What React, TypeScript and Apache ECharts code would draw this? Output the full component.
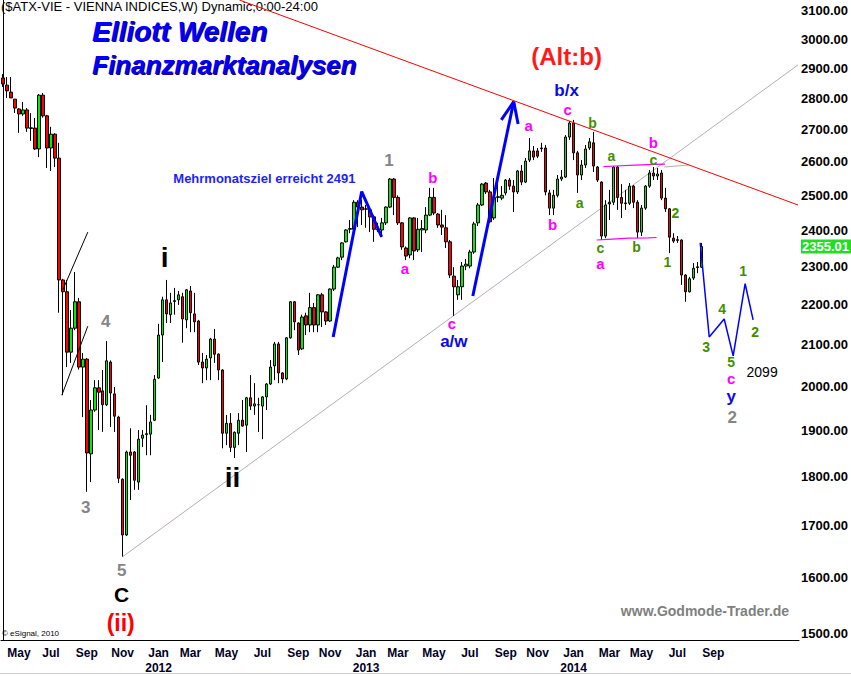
import React, { useEffect, useRef } from "react";
import * as echarts from "echarts";

// ---------- data ----------
const FIRST_FRIDAY = Date.UTC(2011, 3, 8);
const WEEK_COUNT = 200;
const MONTH_NAMES = ["Jan", "Feb", "Mar", "Apr", "May", "Jun", "Jul", "Aug", "Sep", "Oct", "Nov", "Dec"];
const LAST_LABEL_DATE = "2014-09-30";

// weekly candles: [open, close, low, high]
const ohlc2011 = [
  [2867, 2847, 2837, 2880], [2843, 2824, 2801, 2870], [2820, 2801, 2801, 2870], [2797, 2768, 2752, 2797],
  [2765, 2749, 2689, 2768], [2749, 2762, 2743, 2788], [2762, 2704, 2692, 2768], [2705, 2703, 2664, 2752],
  [2704, 2639, 2636, 2736], [2639, 2810, 2614, 2814], [2810, 2743, 2737, 2817], [2743, 2642, 2581, 2746],
  [2642, 2685, 2572, 2708], [2685, 2611, 2584, 2688], [2611, 2265, 2180, 2658], [2265, 2234, 1980, 2268],
  [2234, 2082, 2046, 2265], [2082, 2141, 2056, 2187], [2141, 2208, 2136, 2286], [2208, 2046, 2040, 2218],
  [2046, 2065, 1930, 2080], [2065, 1851, 1769, 2068], [1849, 1946, 1789, 1969], [1946, 1997, 1942, 2015],
  [1997, 1987, 1901, 2015], [1990, 1958, 1897, 2039], [1958, 2061, 1955, 2109], [2058, 1985, 1908, 2062],
  [1983, 1932, 1897, 1999], [1930, 1797, 1787, 1933], [1795, 1682, 1640, 1797], [1682, 1853, 1680, 1856],
  [1853, 1846, 1752, 1905], [1853, 1793, 1773, 1855], [1789, 1881, 1773, 1901], [1883, 1890, 1864, 1901],
  [1891, 1893, 1846, 1957], [1892, 1919, 1846, 1935], [1923, 2017, 1921, 2027],
];
const ohlc2012 = [
  [2020, 2124, 2018, 2152], [2124, 2213, 2058, 2221], [2213, 2177, 2154, 2265], [2175, 2205, 2154, 2231],
  [2209, 2211, 2175, 2244], [2213, 2226, 2200, 2236], [2221, 2164, 2105, 2231], [2162, 2239, 2141, 2241],
  [2236, 2180, 2131, 2249], [2177, 2157, 2131, 2231], [2159, 2058, 2051, 2162], [2058, 2044, 2008, 2080],
  [2044, 2065, 2015, 2075], [2068, 2114, 2015, 2117], [2114, 2077, 2056, 2139], [2077, 2039, 2015, 2079],
  [2039, 1894, 1861, 2041], [1894, 1916, 1868, 1935], [1916, 1863, 1853, 1939], [1863, 1896, 1840, 1898],
  [1894, 1923, 1868, 1939], [1923, 1910, 1908, 1969], [1912, 1974, 1853, 1976], [1974, 1955, 1946, 2027],
  [1955, 1960, 1935, 2008], [1958, 1958, 1897, 1974], [1955, 1976, 1881, 1978], [1976, 2006, 1946, 2008],
  [2006, 2046, 2004, 2063], [2049, 2102, 2015, 2107], [2102, 2032, 2008, 2107], [2032, 2018, 2008, 2034],
  [2018, 2117, 2015, 2119], [2117, 2208, 2115, 2210], [2208, 2157, 2136, 2210], [2154, 2087, 2075, 2156],
  [2090, 2169, 2087, 2175], [2172, 2149, 2124, 2180], [2149, 2193, 2131, 2231], [2193, 2149, 2131, 2205],
  [2149, 2226, 2131, 2228], [2226, 2182, 2144, 2231], [2182, 2159, 2149, 2184], [2159, 2241, 2157, 2243],
  [2241, 2299, 2236, 2305], [2299, 2324, 2297, 2327], [2326, 2365, 2318, 2367], [2368, 2401, 2366, 2403],
  [2403, 2405, 2392, 2429], [2403, 2480, 2400, 2486], [2480, 2466, 2409, 2486], [2466, 2458, 2415, 2488],
];
const ohlc2013 = [
  [2461, 2460, 2407, 2472], [2458, 2438, 2395, 2464], [2438, 2403, 2368, 2443], [2403, 2401, 2395, 2421],
  [2401, 2421, 2381, 2435], [2421, 2466, 2415, 2468], [2466, 2548, 2463, 2551], [2548, 2494, 2443, 2551],
  [2494, 2421, 2415, 2500], [2421, 2354, 2346, 2423], [2351, 2329, 2318, 2355], [2332, 2435, 2323, 2437],
  [2435, 2343, 2318, 2437], [2346, 2403, 2340, 2435], [2401, 2405, 2340, 2429], [2401, 2443, 2392, 2466],
  [2443, 2494, 2440, 2522], [2494, 2449, 2443, 2522], [2446, 2415, 2407, 2449], [2415, 2409, 2387, 2458],
  [2407, 2368, 2351, 2443], [2368, 2278, 2270, 2373], [2275, 2247, 2172, 2299], [2226, 2247, 2213, 2265],
  [2247, 2302, 2213, 2313], [2302, 2307, 2291, 2321], [2302, 2340, 2296, 2346], [2340, 2418, 2335, 2424],
  [2421, 2472, 2412, 2478], [2472, 2533, 2469, 2536], [2536, 2510, 2504, 2539], [2510, 2424, 2421, 2516],
  [2435, 2494, 2429, 2551], [2494, 2496, 2480, 2545], [2492, 2500, 2486, 2527], [2507, 2545, 2500, 2548],
  [2545, 2527, 2516, 2551], [2527, 2510, 2452, 2545], [2510, 2572, 2504, 2575], [2572, 2539, 2530, 2590],
  [2539, 2602, 2536, 2611], [2605, 2633, 2599, 2673], [2633, 2614, 2605, 2648], [2633, 2617, 2611, 2642],
  [2642, 2640, 2630, 2658], [2642, 2510, 2500, 2651], [2507, 2463, 2443, 2516], [2463, 2500, 2443, 2516],
  [2500, 2548, 2494, 2560], [2548, 2554, 2542, 2575], [2554, 2676, 2551, 2682], [2676, 2720, 2667, 2727],
];
const ohlc2014 = [
  [2720, 2627, 2605, 2730], [2627, 2560, 2507, 2633], [2560, 2590, 2545, 2605], [2590, 2639, 2581, 2651],
  [2642, 2661, 2636, 2673], [2658, 2587, 2569, 2692], [2584, 2545, 2539, 2587], [2539, 2384, 2373, 2541],
  [2384, 2472, 2378, 2486], [2475, 2480, 2429, 2516], [2480, 2584, 2472, 2587], [2584, 2494, 2458, 2587],
  [2494, 2477, 2435, 2533], [2478, 2476, 2458, 2516], [2477, 2527, 2472, 2536], [2527, 2480, 2463, 2530],
  [2480, 2395, 2378, 2486], [2395, 2463, 2384, 2472], [2463, 2527, 2458, 2530], [2527, 2566, 2522, 2575],
  [2566, 2557, 2545, 2584], [2557, 2563, 2545, 2581], [2566, 2492, 2486, 2575], [2492, 2461, 2452, 2522],
  [2461, 2381, 2337, 2463], [2378, 2370, 2365, 2392], [2374, 2372, 2365, 2384], [2373, 2278, 2252, 2375],
  [2278, 2234, 2208, 2280], [2234, 2268, 2232, 2273], [2270, 2296, 2265, 2310], [2298, 2300, 2283, 2313],
  [2299, 2355.01, 2297, 2365],
];
const lastClose = 2355.01;

const yTickValues = [1500, 1600, 1700, 1800, 1900, 2000, 2100, 2200, 2300, 2400, 2500, 2600, 2700, 2800, 2900, 3000, 3100];
const yMin = 1488;
const yMax = 3140;

// drawn lines: [week index, price]
const resistanceLine = [[59.25, 3140], [199.25, 2472]];
const supportLine = [[30, 1640], [199.25, 2911]];
const stubLine = [[165.75, 2584], [171.75, 2590]];
const rangeTop = [[150.5, 2585], [153.4, 2587], [158.4, 2590], [163.4, 2592], [165.9, 2593]];
const rangeBottom = [[148.8, 2373], [151.75, 2375], [156.75, 2378], [161.75, 2379], [163.8, 2380]];
const channelUpper = [[15, 2239], [21.25, 2395]];
const channelLower = [[14.75, 1980], [21.25, 2146]];
const targetPath = [[82.75, 2119], [89.9, 2511], [94.9, 2382]];
const arrowShaft = [[117.75, 2223], [128, 2789]];
const arrowHeadLeft = [[124.9, 2730], [128, 2789]];
const arrowHeadRight = [[128, 2789], [129.1, 2717]];
const projection = [[174.75, 2365], [177, 2119], [180.75, 2164], [183, 2073], [186, 2255], [188, 2162]];

// wave annotations: [text, week index, price, kind]
const waveLabels: [string, number, number, string][] = [
  ["i", 40.5, 2324, "roman"],
  ["ii", 57.5, 1799, "roman"],
  ["4", 25.75, 2157, "gray"],
  ["3", 20.75, 1736, "gray"],
  ["5", 29.75, 1613, "gray"],
  ["C", 29.75, 1570, "bigC"],
  ["(ii)", 29.5, 1518, "red"],
  ["1", 96.75, 2605, "gray"],
  ["a", 100.75, 2296, "magenta"],
  ["b", 107.75, 2554, "magenta"],
  ["c", 112.5, 2154, "magenta"],
  ["a/w", 113, 2107, "blue"],
  ["a", 131.75, 2711, "magenta"],
  ["b", 137.75, 2415, "magenta"],
  ["c", 141.5, 2762, "magenta"],
  ["b/x", 141.25, 2824, "blue"],
  ["b", 147.75, 2720, "olive"],
  ["a", 144.5, 2477, "olive"],
  ["a", 152.5, 2617, "olive"],
  ["c", 149.75, 2351, "olive"],
  ["a", 149.75, 2310, "magenta"],
  ["b", 158.75, 2354, "olive"],
  ["c", 163, 2605, "olive"],
  ["b", 163, 2658, "magenta"],
  ["2", 168.5, 2449, "olive"],
  ["1", 166.5, 2313, "olive"],
  ["1", 185.5, 2288, "olive"],
  ["4", 180.25, 2190, "olive"],
  ["3", 176.25, 2095, "olive"],
  ["2", 188.5, 2131, "olive"],
  ["5", 182.5, 2058, "olive"],
  ["c", 182.5, 2018, "magenta"],
  ["y", 182.5, 1976, "blue"],
  ["2", 182.75, 1930, "gray"],
  ["2099", 190.25, 2034, "plain"],
  ["(Alt:b)", 141.25, 2938, "alt"],
  ["Mehrmonatsziel erreicht 2491", 65.5, 2551, "note"],
];

// ---------- styles ----------
const FONT = "Arial, 'Liberation Sans', sans-serif";
const labelStyles: Record<string, any> = {
  roman: { color: "#000000", fontSize: 28 },
  bigC: { color: "#000000", fontSize: 21 },
  red: { color: "#ff0000", fontSize: 23 },
  alt: { color: "#ff1a1a", fontSize: 24 },
  gray: { color: "#858585", fontSize: 17 },
  magenta: { color: "#ff00ff", fontSize: 15 },
  olive: { color: "#3f8f00", fontSize: 14 },
  blue: { color: "#0a0ae6", fontSize: 17 },
  plain: { color: "#000000", fontSize: 14, fontWeight: "normal" },
  note: { color: "#1e1eff", fontSize: 13 },
};

function buildWeeks(): string[] {
  const out: string[] = [];
  for (let i = 0; i < WEEK_COUNT; i++) {
    out.push(new Date(FIRST_FRIDAY + i * 7 * 86400000).toISOString().slice(0, 10));
  }
  return out;
}

function lineSeries(data: number[][], color: string, width: number, z = 4) {
  return {
    type: "line",
    xAxisIndex: 1,
    yAxisIndex: 0,
    data,
    symbol: "none",
    showSymbol: false,
    silent: true,
    z,
    lineStyle: { color, width, opacity: 1 },
  };
}

function buildOption() {
  const weeks = buildWeeks();
  const ohlc = [...ohlc2011, ...ohlc2012, ...ohlc2013, ...ohlc2014];

  return {
    animation: false,
    backgroundColor: "#ffffff",
    textStyle: { fontFamily: FONT },
    grid: { left: 1, right: 50, top: 0, bottom: 36, containLabel: false },
    xAxis: [
      {
        type: "category",
        data: weeks,
        boundaryGap: true,
        axisLine: { show: true, onZero: false, lineStyle: { color: "#000", width: 1 } },
        axisTick: { show: false },
        splitLine: { show: false },
        axisLabel: {
          interval: (_idx: number, value: string) => {
            const [, m, d] = value.split("-").map(Number);
            return m % 2 === 1 && d <= 7 && value <= LAST_LABEL_DATE;
          },
          formatter: (value: string) => {
            const [y, m] = value.split("-").map(Number);
            const name = MONTH_NAMES[m - 1];
            return m === 1 ? `${name}\n${y}` : name;
          },
          color: "#000022",
          fontWeight: "bold",
          fontSize: 12,
          fontFamily: FONT,
          margin: 5,
          lineHeight: 15,
        },
      },
      { type: "value", min: -0.5, max: WEEK_COUNT - 0.5, show: false, position: "top" },
    ],
    yAxis: {
      type: "log",
      logBase: 10,
      min: yMin,
      max: yMax,
      position: "right",
      axisLine: { show: true, lineStyle: { color: "#000", width: 1 } },
      axisTick: { show: false },
      splitLine: { show: false },
      axisLabel: {
        customValues: yTickValues,
        formatter: (v: number) => Number(v).toFixed(2),
        color: "#000",
        fontWeight: "bold",
        fontSize: 13,
        fontFamily: FONT,
        margin: 2,
      },
    },
    series: [
      {
        type: "candlestick",
        xAxisIndex: 0,
        yAxisIndex: 0,
        data: ohlc,
        barWidth: 3,
        silent: true,
        z: 2,
        itemStyle: {
          color: "#00ee00",
          color0: "#ff0000",
          borderColor: "#000000",
          borderColor0: "#000000",
          borderWidth: 1,
        },
        markLine: {
          silent: true,
          symbol: ["none", "none"],
          lineStyle: { width: 0, color: "rgba(0,0,0,0)" },
          label: {
            show: true,
            position: "end",
            distance: 2,
            formatter: () => lastClose.toFixed(2),
            backgroundColor: "#22dd22",
            color: "#ffffff",
            fontWeight: "bold",
            fontSize: 13,
            fontFamily: FONT,
            padding: [1, 2, 0, 1],
          },
          data: [{ yAxis: lastClose }],
        },
      },
      lineSeries(supportLine, "#b8acbc", 1, 1),
      lineSeries(stubLine, "#b0b0b0", 1, 1),
      lineSeries(resistanceLine, "#ff0000", 1, 3),
      lineSeries(rangeTop, "#ff00ff", 1.2, 3),
      lineSeries(rangeBottom, "#ff00ff", 1.2, 3),
      lineSeries(channelUpper, "#000000", 1, 3),
      lineSeries(channelLower, "#000000", 1, 3),
      lineSeries(targetPath, "#0000ff", 3, 4),
      lineSeries(arrowShaft, "#0000ff", 3, 4),
      lineSeries(arrowHeadLeft, "#0000ff", 3, 4),
      lineSeries(arrowHeadRight, "#0000ff", 3, 4),
      lineSeries(projection, "#0000ff", 1.5, 4),
      {
        type: "scatter",
        xAxisIndex: 1,
        yAxisIndex: 0,
        symbolSize: 0,
        silent: true,
        z: 6,
        itemStyle: { opacity: 1 },
        data: waveLabels.map(([text, x, y, kind]) => ({
          value: [x, y],
          itemStyle: { opacity: 1 },
          label: {
            show: true,
            position: "inside",
            formatter: text,
            fontWeight: "bold",
            fontFamily: FONT,
            opacity: 1,
            ...labelStyles[kind],
          },
        })),
      },
    ],
    graphic: [
      {
        type: "text",
        x: 1,
        y: 0,
        silent: true,
        style: { text: "($ATX-VIE - VIENNA INDICES,W) Dynamic,0:00-24:00", font: `13px ${FONT}`, fill: "#000", textVerticalAlign: "top" },
      },
      {
        type: "text",
        x: 93,
        y: 32,
        silent: true,
        style: { text: "Elliott Wellen", font: `italic bold 28px ${FONT}`, fill: "#2a0070", textVerticalAlign: "middle" },
      },
      {
        type: "text",
        x: 92,
        y: 31,
        silent: true,
        style: { text: "Elliott Wellen", font: `italic bold 28px ${FONT}`, fill: "#0000ff", textVerticalAlign: "middle" },
      },
      {
        type: "text",
        x: 93,
        y: 66,
        silent: true,
        style: { text: "Finanzmarktanalysen", font: `italic bold 26px ${FONT}`, fill: "#2a0070", textVerticalAlign: "middle" },
      },
      {
        type: "text",
        x: 92,
        y: 65,
        silent: true,
        style: { text: "Finanzmarktanalysen", font: `italic bold 26px ${FONT}`, fill: "#0000ff", textVerticalAlign: "middle" },
      },
      {
        type: "text",
        x: 2,
        y: 633,
        silent: true,
        style: { text: "© eSignal, 2010", font: `8px ${FONT}`, fill: "#000", textVerticalAlign: "middle" },
      },
      {
        type: "text",
        x: 705,
        y: 611,
        silent: true,
        style: { text: "www.Godmode-Trader.de", font: `bold 14px ${FONT}`, fill: "#808080", textAlign: "center", textVerticalAlign: "middle" },
      },
      {
        type: "line",
        silent: true,
        shape: { x1: 0, y1: 673.5, x2: 851, y2: 673.5 },
        style: { stroke: "#cfcfcf", lineWidth: 1 },
      },
    ],
  };
}

export default function App() {
  const ref = useRef<HTMLDivElement>(null);
  useEffect(() => {
    if (!ref.current) return;
    const chart = echarts.init(ref.current, undefined, { renderer: "svg" });
    chart.setOption(buildOption() as any);
    return () => chart.dispose();
  }, []);
  return (
    <div
      ref={ref}
      style={{ position: "absolute", left: 0, top: 0, width: 851, height: 676, background: "#ffffff" }}
    />
  );
}
